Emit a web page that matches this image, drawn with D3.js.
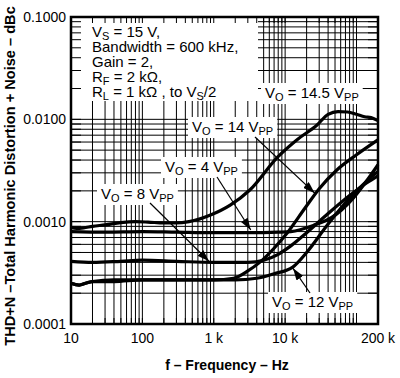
<!DOCTYPE html>
<html>
<head>
<meta charset="utf-8">
<script src="https://cdn.jsdelivr.net/npm/d3@7"></script>
<style>
  body { margin: 0; background: #fff; }
  svg { display: block; font-family: "Liberation Sans", Arial, Helvetica, sans-serif; }
</style>
</head>
<body>
<script>
// axis ticks
var freqTicks = [10, 100, 1000, 10000, 200000];
var freqLabels = ["10", "100", "1 k", "10 k", "200 k"];
var thdTicks = [0.1, 0.01, 0.001, 0.0001];
var thdLabels = ["0.1000", "0.0100", "0.0010", "0.0001"];

// curves, [frequency Hz, THD+N]
var vo145 = [[10, 0.00088], [12, 0.00086], [15, 0.00087], [20, 0.0009], [30, 0.00093], [50, 0.00098],
  [80, 0.001], [120, 0.00099], [200, 0.00097], [300, 0.00097], [450, 0.001], [900, 0.00116],
  [1700, 0.00145], [3200, 0.00204], [7900, 0.0043], [15000, 0.0064], [28000, 0.0088],
  [40000, 0.0112], [55000, 0.0119], [75000, 0.0118], [100000, 0.0112], [130000, 0.0106],
  [160000, 0.0104], [200000, 0.0097]];
var vo14 = [[10, 0.00025], [13, 0.00024], [16, 0.00025], [20, 0.00026], [40, 0.00027], [100, 0.00027],
  [300, 0.00027], [1000, 0.00027], [1900, 0.00028], [3000, 0.00033], [4400, 0.0004], [7000, 0.00055],
  [10600, 0.00077], [19000, 0.00136], [30000, 0.0021], [53000, 0.0032], [100000, 0.0045], [200000, 0.0063]];
var vo4 = [[10, 0.0008], [30, 0.00079], [100, 0.0008], [300, 0.00079], [1000, 0.00078], [3000, 0.00078],
  [8000, 0.00079], [12000, 0.0008], [25000, 0.00092], [45000, 0.0011], [90000, 0.0017],
  [150000, 0.0027], [200000, 0.0036]];
var vo8 = [[10, 0.00041], [20, 0.0004], [50, 0.00041], [100, 0.00042], [300, 0.00041], [1000, 0.0004],
  [3000, 0.0004], [5000, 0.00042], [8000, 0.00048], [12000, 0.00058], [20000, 0.00078],
  [40000, 0.0012], [80000, 0.0018], [140000, 0.0024], [200000, 0.0028]];
var vo12 = [[10, 0.00025], [13, 0.00024], [16, 0.00025], [20, 0.00026], [40, 0.00026], [100, 0.00027],
  [300, 0.00027], [1000, 0.00027], [2000, 0.00027], [4000, 0.00028], [7000, 0.00031], [12800, 0.00036],
  [20000, 0.0005], [40000, 0.00095], [80000, 0.0017], [140000, 0.0025], [200000, 0.0031]];

var margin = { top: 17, right: 22, bottom: 54, left: 71 },
  W = 400, H = 378;

var svg = d3.select("body").append("svg")
  .attr("width", W)
  .attr("height", H);

var x = d3.scaleLog().domain([10, 200000]).range([margin.left, W - margin.right]);
var y = d3.scaleLog().domain([0.0001, 0.1]).range([H - margin.bottom, margin.top]);

// grid
var grid = svg.append("g").attr("stroke", "black").attr("stroke-width", 1);
x.ticks().forEach(function (f) {
  grid.append("line").attr("x1", x(f)).attr("x2", x(f)).attr("y1", y.range()[0]).attr("y2", y.range()[1]);
});
y.ticks().forEach(function (v) {
  grid.append("line").attr("y1", y(v)).attr("y2", y(v)).attr("x1", x.range()[0]).attr("x2", x.range()[1]);
});

var boxes = svg.append("g").attr("fill", "white");
var ticks = svg.append("g").attr("stroke", "black").attr("stroke-width", 1);
var curves = svg.append("g");
var texts = svg.append("g").attr("font-size", 15);

// inward ticks on the frame (they show through the white boxes)
x.ticks().forEach(function (f) {
  ticks.append("line").attr("x1", x(f)).attr("x2", x(f)).attr("y1", margin.top).attr("y2", margin.top + 6);
  ticks.append("line").attr("x1", x(f)).attr("x2", x(f)).attr("y1", H - margin.bottom).attr("y2", H - margin.bottom - 6);
});
y.ticks().forEach(function (v) {
  ticks.append("line").attr("y1", y(v)).attr("y2", y(v)).attr("x1", margin.left).attr("x2", margin.left + 10);
  ticks.append("line").attr("y1", y(v)).attr("y2", y(v)).attr("x1", W - margin.right).attr("x2", W - margin.right - 10);
});

// text with subscripts: parts = [[text, isSub], ...]
function subText(g, px, py, parts, size) {
  var t = g.append("text").attr("x", px).attr("y", py);
  if (size) t.attr("font-size", size);
  var shifted = false;
  parts.forEach(function (p) {
    var s = t.append("tspan").text(p[0]);
    if (p[1] && !shifted) { s.attr("dy", 3).attr("font-size", 11); shifted = true; }
    else if (p[1]) { s.attr("font-size", 11); }
    else if (shifted) { s.attr("dy", -3); shifted = false; }
  });
  return t;
}

// parameter box
boxes.append("rect").attr("x", margin.left).attr("y", margin.top).attr("width", 187).attr("height", 84);
var params = [
  [["V"], ["S", 1], [" = 15 V,"]],
  [["Bandwidth = 600 kHz,"]],
  [["Gain = 2,"]],
  [["R"], ["F", 1], [" = 2 k\u03A9,"]],
  [["R"], ["L", 1], [" = 1 k\u03A9 , to V"], ["S", 1], ["/2"]]
];
params.forEach(function (p, i) {
  subText(texts, 92, 37 + i * 15, p);
});

// curve labels
var curveLabels = [
  { v: "14.5", px: 265, py: 98 },
  { v: "14", px: 192, py: 132 },
  { v: "4", px: 165, py: 172 },
  { v: "8", px: 101, py: 199 },
  { v: "12", px: 272, py: 307 }
];
curveLabels.forEach(function (d) {
  var t = subText(texts, d.px, d.py, [["V"], ["O", 1], [" = " + d.v + " V"], ["PP", 1]]);
  var b = t.node().getBBox();
  boxes.append("rect")
    .attr("x", b.x - 4).attr("y", b.y - 1)
    .attr("width", b.width + 8).attr("height", b.height + 2);
});

// curves
var line = d3.line()
  .x(function (d) { return x(d[0]); })
  .y(function (d) { return y(d[1]); })
  .curve(d3.curveMonotoneX);
[vo145, vo14, vo4, vo8, vo12].forEach(function (s) {
  curves.append("path")
    .attr("d", line(s))
    .attr("fill", "none")
    .attr("stroke", "black")
    .attr("stroke-width", 3.2)
    .attr("stroke-linejoin", "round");
});

// arrows
svg.append("defs").append("marker")
  .attr("id", "ah")
  .attr("markerUnits", "userSpaceOnUse")
  .attr("markerWidth", 12).attr("markerHeight", 8)
  .attr("refX", 12).attr("refY", 4)
  .attr("orient", "auto")
  .append("path").attr("d", "M0,0L12,4L0,8z").attr("fill", "black");
var arrows = [
  { x0: 255, y0: 137, f: 26000, v: 0.0019 },
  { x0: 217, y0: 177, f: 3300, v: 0.00083 },
  { x0: 150, y0: 203, f: 857, v: 0.00041 },
  { x0: 310, y0: 293, f: 12900, v: 0.00035 }
];
arrows.forEach(function (a) {
  svg.append("line")
    .attr("x1", a.x0).attr("y1", a.y0)
    .attr("x2", x(a.f)).attr("y2", y(a.v))
    .attr("stroke", "black").attr("stroke-width", 1.2)
    .attr("marker-end", "url(#ah)");
});

// frame
svg.append("rect")
  .attr("x", margin.left).attr("y", margin.top)
  .attr("width", W - margin.left - margin.right)
  .attr("height", H - margin.top - margin.bottom)
  .attr("fill", "none").attr("stroke", "black").attr("stroke-width", 2.5);

// tick labels
svg.append("g").selectAll("text").data(freqTicks).enter().append("text")
  .attr("x", function (d) { return x(d); })
  .attr("y", 343)
  .attr("text-anchor", "middle")
  .attr("font-size", 14)
  .text(function (d, i) { return freqLabels[i]; });
svg.append("g").selectAll("text").data(thdTicks).enter().append("text")
  .attr("x", 66)
  .attr("y", function (d) { return y(d) + 5; })
  .attr("text-anchor", "end")
  .attr("font-size", 14)
  .text(function (d, i) { return thdLabels[i]; });

// axis titles
svg.append("text")
  .attr("x", 227).attr("y", 370)
  .attr("text-anchor", "middle")
  .attr("font-size", 14).attr("font-weight", "bold")
  .text("f \u2013 Frequency \u2013 Hz");
svg.append("text")
  .attr("transform", "translate(15,176) rotate(-90)")
  .attr("text-anchor", "middle")
  .attr("font-size", 14.6).attr("font-weight", "bold")
  .text("THD+N \u2013Total Harmonic Distortion + Noise \u2013 dBc");
</script>
</body>
</html>
